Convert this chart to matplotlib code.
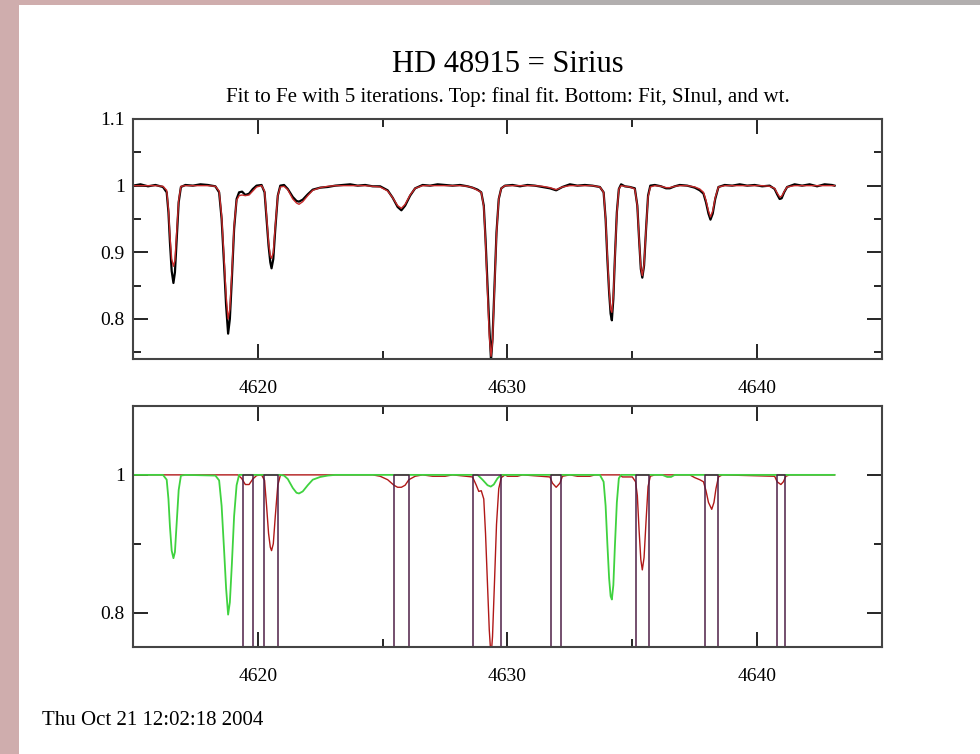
import matplotlib
matplotlib.use("Agg")
import matplotlib.pyplot as plt
from matplotlib.ticker import MultipleLocator, FuncFormatter
from matplotlib.patches import Rectangle

plt.rcParams['font.family'] = ['Liberation Serif', 'DejaVu Serif']

# top panel: observed spectrum (black) and final fit (red)
wl_top = [4615.0, 4615.3, 4615.6, 4615.9, 4616.2, 4616.35, 4616.42, 4616.48, 4616.55, 4616.62,
          4616.68, 4616.75, 4616.83, 4616.92, 4617.1, 4617.4, 4617.7, 4618.0, 4618.3, 4618.45,
          4618.55, 4618.65, 4618.73, 4618.81, 4618.88, 4618.96, 4619.05, 4619.15, 4619.25, 4619.37,
          4619.5, 4619.65, 4619.8, 4619.95, 4620.15, 4620.27, 4620.35, 4620.43, 4620.5, 4620.55,
          4620.62, 4620.7, 4620.8, 4620.9, 4621.05, 4621.2, 4621.4, 4621.55, 4621.65, 4621.8,
          4622.0, 4622.2, 4622.5, 4622.8, 4623.1, 4623.4, 4623.7, 4624.0, 4624.3, 4624.6,
          4624.9, 4625.2, 4625.4, 4625.6, 4625.75, 4625.9, 4626.1, 4626.3, 4626.6, 4626.9,
          4627.2, 4627.5, 4627.8, 4628.1, 4628.4, 4628.6, 4628.8, 4628.95, 4629.05, 4629.12,
          4629.2, 4629.27, 4629.34, 4629.4, 4629.48, 4629.56, 4629.65, 4629.75, 4629.9, 4630.2,
          4630.5, 4630.8, 4631.1, 4631.4, 4631.7, 4631.95, 4632.2, 4632.5, 4632.8, 4633.1,
          4633.4, 4633.7, 4633.85, 4633.93, 4634.0, 4634.07, 4634.13, 4634.18, 4634.24, 4634.3,
          4634.38, 4634.46, 4634.55, 4634.7, 4634.9, 4635.1, 4635.2, 4635.27, 4635.34, 4635.4,
          4635.47, 4635.55, 4635.63, 4635.72, 4635.9, 4636.15, 4636.35, 4636.5, 4636.7, 4636.9,
          4637.2, 4637.5, 4637.7, 4637.85, 4637.95, 4638.05, 4638.13, 4638.22, 4638.32, 4638.45,
          4638.7, 4639.0, 4639.3, 4639.6, 4639.9, 4640.2, 4640.5, 4640.7, 4640.8, 4640.9,
          4640.98, 4641.08, 4641.2, 4641.5, 4641.8, 4642.1, 4642.4, 4642.7, 4643.0, 4643.1]
obs_top = [1.000, 1.002, 0.999, 1.001, 0.998, 0.990, 0.960, 0.915, 0.872, 0.854,
           0.870, 0.920, 0.975, 0.998, 1.001, 1.000, 1.002, 1.001, 0.999, 0.990,
           0.950, 0.880, 0.820, 0.778, 0.800, 0.860, 0.935, 0.980, 0.990, 0.991,
           0.986, 0.988, 0.995, 1.000, 1.001, 0.990, 0.950, 0.910, 0.885, 0.876,
           0.890, 0.935, 0.985, 1.000, 1.001, 0.995, 0.983, 0.977, 0.976, 0.979,
           0.987, 0.994, 0.997, 0.998, 1.000, 1.001, 1.002, 1.000, 1.001, 0.999,
           0.999, 0.993, 0.982, 0.968, 0.963, 0.970, 0.985, 0.996, 1.001, 1.000,
           1.002, 1.001, 1.000, 1.001, 0.999, 0.997, 0.994, 0.990, 0.970, 0.920,
           0.850, 0.790, 0.738, 0.770, 0.850, 0.930, 0.980, 0.996, 1.000, 1.001,
           0.999, 1.001, 1.000, 0.998, 0.996, 0.993, 0.998, 1.002, 1.000, 1.001,
           1.000, 0.998, 0.990, 0.950, 0.890, 0.840, 0.808, 0.798, 0.830, 0.890,
           0.960, 0.995, 1.002, 0.999, 0.998, 0.996, 0.970, 0.920, 0.875, 0.862,
           0.880, 0.935, 0.985, 1.000, 1.001, 0.999, 0.996, 0.996, 0.999, 1.001,
           1.000, 0.997, 0.993, 0.988, 0.975, 0.958, 0.949, 0.958, 0.980, 0.998,
           1.001, 1.000, 1.002, 1.000, 1.001, 0.999, 1.000, 0.995, 0.987, 0.980,
           0.981, 0.990, 0.998, 1.002, 1.000, 1.002, 0.999, 1.002, 1.001, 1.000]
fit_top = [1.000, 1.000, 1.000, 1.000, 0.999, 0.993, 0.965, 0.925, 0.890, 0.879,
           0.888, 0.930, 0.978, 0.999, 1.000, 1.000, 1.000, 1.000, 0.999, 0.992,
           0.955, 0.890, 0.835, 0.800, 0.815, 0.870, 0.940, 0.978, 0.985, 0.986,
           0.985, 0.986, 0.992, 0.998, 1.000, 0.992, 0.955, 0.915, 0.895, 0.891,
           0.900, 0.940, 0.985, 0.998, 0.999, 0.994, 0.980, 0.974, 0.972, 0.976,
           0.985, 0.993, 0.997, 0.999, 1.000, 1.000, 1.000, 1.000, 1.000, 0.999,
           0.998, 0.992, 0.982, 0.970, 0.966, 0.972, 0.986, 0.996, 1.000, 1.000,
           1.000, 1.000, 1.000, 1.000, 0.999, 0.997, 0.993, 0.990, 0.968, 0.915,
           0.840, 0.775, 0.744, 0.765, 0.845, 0.928, 0.980, 0.996, 1.000, 1.000,
           1.000, 1.000, 1.000, 0.999, 0.997, 0.994, 0.998, 1.000, 1.000, 1.000,
           1.000, 0.998, 0.990, 0.950, 0.895, 0.845, 0.815, 0.810, 0.835, 0.890,
           0.958, 0.995, 1.000, 0.999, 0.998, 0.995, 0.970, 0.920, 0.877, 0.865,
           0.882, 0.935, 0.983, 0.998, 1.000, 0.999, 0.997, 0.997, 0.999, 1.000,
           1.000, 0.998, 0.995, 0.990, 0.978, 0.962, 0.953, 0.962, 0.982, 0.998,
           1.000, 1.000, 1.000, 1.000, 1.000, 1.000, 0.999, 0.996, 0.989, 0.983,
           0.984, 0.991, 0.998, 1.000, 1.000, 1.000, 1.000, 1.000, 1.000, 1.000]

# bottom panel: Fit (green), SInul (red), wt (boxes)
wl_green = [4615.0, 4616.2, 4616.35, 4616.42, 4616.48, 4616.55, 4616.62, 4616.68, 4616.75, 4616.83,
            4616.92, 4617.1, 4618.3, 4618.45, 4618.55, 4618.65, 4618.73, 4618.81, 4618.88, 4618.96,
            4619.05, 4619.15, 4619.25, 4620.9, 4621.05, 4621.2, 4621.4, 4621.55, 4621.65, 4621.8,
            4622.0, 4622.2, 4622.5, 4622.8, 4623.1, 4628.8, 4629.0, 4629.2, 4629.33, 4629.45,
            4629.6, 4629.75, 4633.7, 4633.85, 4633.93, 4634.0, 4634.07, 4634.13, 4634.18, 4634.24,
            4634.3, 4634.38, 4634.46, 4634.55, 4636.2, 4636.4, 4636.55, 4636.7, 4643.1]
green = [1.000, 1.000, 0.993, 0.965, 0.925, 0.890, 0.879, 0.888, 0.930, 0.978,
         0.999, 1.000, 0.999, 0.992, 0.955, 0.890, 0.835, 0.797, 0.815, 0.870,
         0.940, 0.985, 1.000, 1.000, 0.999, 0.994, 0.981, 0.974, 0.973, 0.976,
         0.985, 0.993, 0.997, 0.999, 1.000, 1.000, 0.993, 0.985, 0.983, 0.986,
         0.995, 1.000, 1.000, 0.990, 0.955, 0.900, 0.850, 0.824, 0.819, 0.840,
         0.895, 0.960, 0.995, 1.000, 1.000, 0.997, 0.997, 1.000, 1.000]

wl_red = [4615.0, 4619.2, 4619.35, 4619.5, 4619.65, 4619.8, 4619.95, 4620.15, 4620.27, 4620.35,
          4620.43, 4620.5, 4620.55, 4620.62, 4620.7, 4620.8, 4620.9, 4621.0, 4624.6, 4624.9,
          4625.2, 4625.45, 4625.6, 4625.75, 4625.9, 4626.05, 4626.3, 4626.6, 4627.0, 4627.5,
          4627.8, 4628.6, 4628.75, 4628.85, 4628.95, 4629.05, 4629.12, 4629.2, 4629.27, 4629.34,
          4629.4, 4629.48, 4629.56, 4629.65, 4629.75, 4629.9, 4630.0, 4630.4, 4630.6, 4631.7,
          4631.8, 4631.95, 4632.1, 4632.2, 4632.5, 4632.8, 4633.3, 4633.5, 4634.5, 4634.6,
          4635.0, 4635.13, 4635.2, 4635.27, 4635.34, 4635.4, 4635.47, 4635.55, 4635.63, 4635.72,
          4635.9, 4637.3, 4637.5, 4637.7, 4637.85, 4637.95, 4638.05, 4638.18, 4638.27, 4638.35,
          4638.45, 4638.6, 4640.7, 4640.8, 4640.95, 4641.05, 4641.15, 4641.3, 4643.1]
red = [1.000, 1.000, 0.995, 0.986, 0.986, 0.994, 0.999, 1.000, 0.992, 0.955,
       0.915, 0.895, 0.890, 0.900, 0.940, 0.985, 0.999, 1.000, 1.000, 0.998,
       0.993, 0.985, 0.982, 0.982, 0.985, 0.993, 0.998, 1.000, 0.998, 0.998,
       1.000, 0.997, 0.985, 0.976, 0.977, 0.965, 0.915, 0.840, 0.775, 0.735,
       0.765, 0.845, 0.928, 0.980, 0.996, 1.000, 0.998, 0.998, 1.000, 0.997,
       0.988, 0.982, 0.988, 0.998, 1.000, 0.998, 0.998, 1.000, 1.000, 0.997,
       0.997, 0.990, 0.970, 0.920, 0.877, 0.862, 0.880, 0.933, 0.983, 0.998,
       1.000, 1.000, 0.996, 0.993, 0.990, 0.977, 0.960, 0.950, 0.960, 0.980,
       0.997, 1.000, 0.998, 0.990, 0.986, 0.990, 0.998, 1.000, 1.000]

box_lo = [4619.40, 4620.24, 4625.45, 4628.63, 4631.75, 4635.13, 4637.91, 4640.78]
box_hi = [4619.82, 4620.81, 4626.05, 4629.74, 4632.15, 4635.68, 4638.43, 4641.13]

# weight series: 1 inside the fitting windows, 0 elsewhere
wl_wt, wt = [4615.0], [0.0]
for lo, hi in zip(box_lo, box_hi):
    wl_wt += [lo, lo, hi, hi]
    wt += [0.0, 1.0, 1.0, 0.0]
wl_wt.append(4643.1)
wt.append(0.0)

fig = plt.figure(figsize=(9.8, 7.54), dpi=100)
fig.patch.set_facecolor('#cfadad')
fig.patches.append(Rectangle((0.5, 0.993), 0.5, 0.007, transform=fig.transFigure,
                             facecolor='#b2afaf', edgecolor='none', zorder=-5))
fig.patches.append(Rectangle((19 / 980, 0), 1, 1 - 5 / 754, transform=fig.transFigure,
                             facecolor='white', edgecolor='none', zorder=-5))

ax1 = fig.add_axes([0.1357, 0.5239, 0.7643, 0.3183])
ax2 = fig.add_axes([0.1357, 0.1419, 0.7643, 0.3196])

ax1.plot(wl_top, obs_top, color='black', lw=1.6)
ax1.plot(wl_top, fit_top, color='#c62a2a', lw=1.0)
ax1.set_ylim(0.74, 1.1)
ax1.yaxis.set_major_locator(MultipleLocator(0.1))
ax1.yaxis.set_minor_locator(MultipleLocator(0.05))

ax2.plot(wl_red, red, color='#b01818', lw=1.0)
ax2.plot(wl_green, green, color='#3fd23f', lw=1.3)
ax2.plot(wl_wt, wt, color='#4e1f47', lw=1.1)
ax2.set_ylim(0.75, 1.1)
ax2.yaxis.set_major_locator(MultipleLocator(0.2))
ax2.yaxis.set_minor_locator(MultipleLocator(0.1))

fmt = FuncFormatter(lambda v, p: f"{v:g}")
for ax in (ax1, ax2):
    ax.set_xlim(4615, 4645)
    ax.xaxis.set_major_locator(MultipleLocator(10))
    ax.xaxis.set_minor_locator(MultipleLocator(5))
    ax.yaxis.set_major_formatter(fmt)
    ax.tick_params(which='both', direction='in', top=True, right=True, color='black')
    ax.tick_params(which='major', length=11, width=1.2, labelsize=14)
    ax.tick_params(which='minor', length=6, width=1.2)
    ax.tick_params(axis='x', pad=15)
    ax.tick_params(axis='y', pad=6)
    for s in ax.spines.values():
        s.set_color('#444444')
        s.set_linewidth(1.5)

fig.text(0.518, 0.915, "HD 48915 = Sirius", ha='center', va='center', fontsize=22)
fig.text(0.518, 0.871, "Fit to Fe with 5 iterations. Top: final fit. Bottom: Fit, SInul, and wt.",
         ha='center', va='center', fontsize=15)
fig.text(0.043, 0.045, "Thu Oct 21 12:02:18 2004", ha='left', va='center', fontsize=15)

fig.savefig("out.png", dpi=100, facecolor=fig.get_facecolor())
